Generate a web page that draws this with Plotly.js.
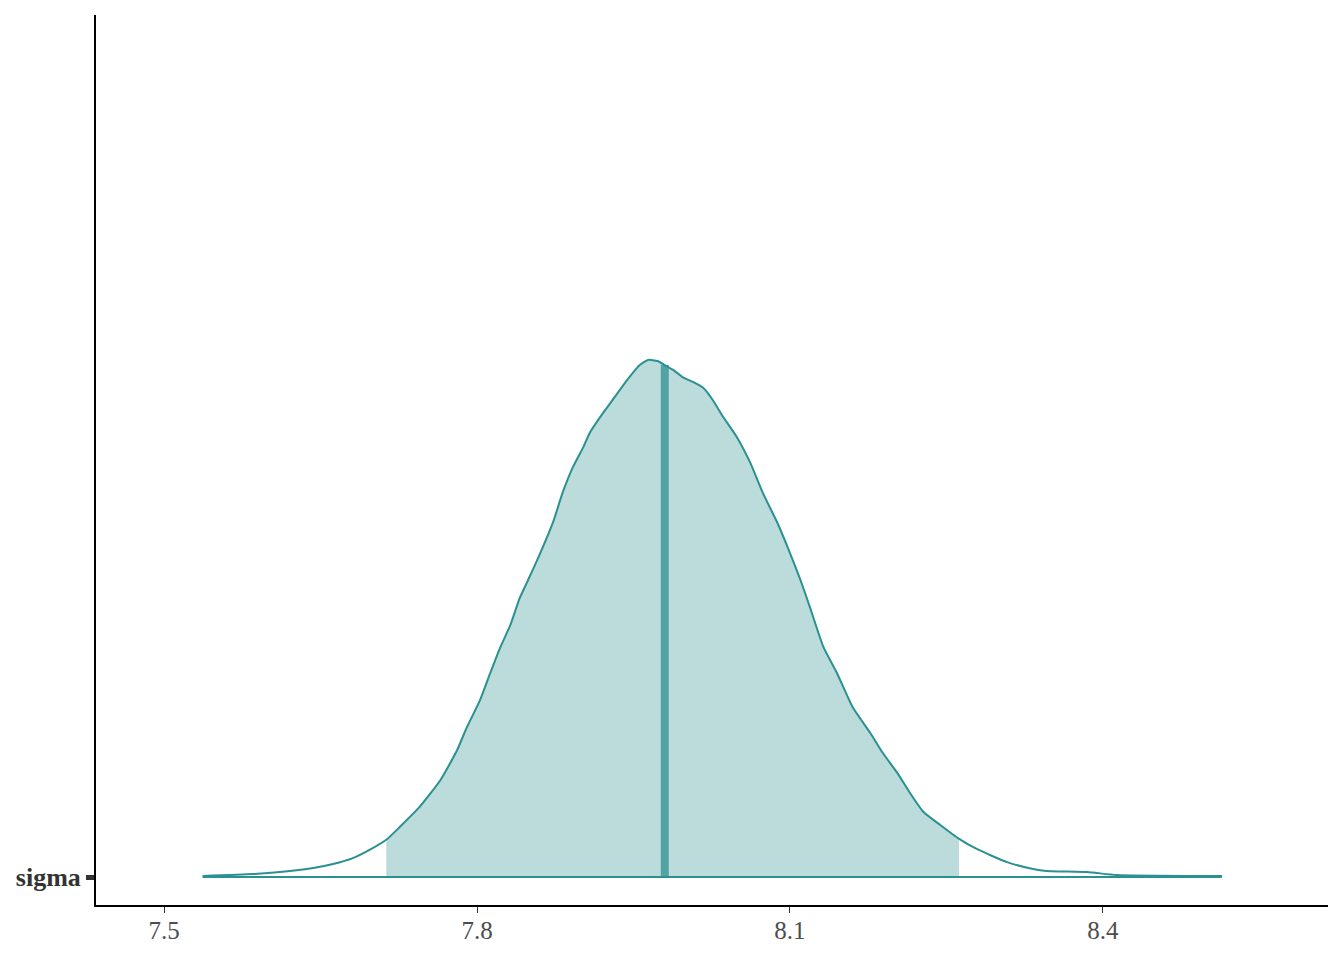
<!DOCTYPE html>
<html>
<head>
<meta charset="utf-8">
<script src="https://cdn.plot.ly/plotly-3.0.1.min.js"></script>
<style>html,body{margin:0;padding:0;background:#fff;}#chart{width:1344px;height:960px;}</style>
</head>
<body>
<div id="chart"></div>
<script>
// Posterior density of sigma
const sigmaX = [7.537,7.585,7.611,7.643,7.662,7.681,7.700,7.714,7.726,7.745,7.765,7.781,7.790,7.803,7.812,7.822,7.832,7.841,7.849,7.858,7.873,7.882,7.892,7.902,7.908,7.918,7.930,7.944,7.956,7.964,7.973,7.980,7.988,7.997,8.007,8.017,8.026,8.036,8.049,8.062,8.074,8.088,8.100,8.110,8.119,8.132,8.145,8.160,8.177,8.189,8.203,8.215,8.228,8.244,8.261,8.279,8.308,8.333,8.346,8.385,8.413,8.514];
const sigmaDensity = [0.005,0.016,0.027,0.049,0.071,0.104,0.159,0.209,0.275,0.385,0.533,0.698,0.819,0.973,1.110,1.258,1.385,1.533,1.632,1.745,1.951,2.110,2.253,2.363,2.440,2.527,2.621,2.731,2.813,2.841,2.835,2.813,2.786,2.747,2.720,2.687,2.621,2.527,2.418,2.275,2.110,1.945,1.780,1.632,1.484,1.264,1.121,0.934,0.791,0.681,0.571,0.462,0.357,0.286,0.214,0.154,0.082,0.044,0.033,0.027,0.011,0.005];
const intervalLow = 7.713;
const intervalHigh = 8.262;
const medianValue = 7.980;
const paramLabels = ['sigma'];
const xTicks = [7.5, 7.8, 8.1, 8.4];
const xTickText = ['7.5', '7.8', '8.1', '8.4'];

function densAt(x){
  for(let i=0;i<sigmaX.length-1;i++){
    if(x>=sigmaX[i] && x<=sigmaX[i+1]){
      const t=(x-sigmaX[i])/(sigmaX[i+1]-sigmaX[i]);
      return sigmaDensity[i]+t*(sigmaDensity[i+1]-sigmaDensity[i]);
    }
  }
  return 0;
}
const fx=[intervalLow], fy=[densAt(intervalLow)];
sigmaX.forEach((x,i)=>{ if(x>intervalLow && x<intervalHigh){fx.push(x);fy.push(sigmaDensity[i]);} });
fx.push(intervalHigh); fy.push(densAt(intervalHigh));

const lineCol = '#2a9090';
const traces = [
  {x:[intervalLow, ...fx, intervalHigh], y:[0, ...fy, 0], type:'scatter', mode:'lines', fill:'toself',
   fillcolor:'#bcdcdc', line:{width:0, color:'rgba(0,0,0,0)'}, hoverinfo:'skip', showlegend:false},
  {x:[medianValue, medianValue], y:[0, densAt(medianValue)], type:'scatter', mode:'lines',
   line:{color:'#52a3a3', width:8}, showlegend:false},
  {x:sigmaX, y:sigmaDensity, type:'scatter', mode:'lines', line:{color:lineCol, width:2, shape:'spline', smoothing:0.5}, showlegend:false},
  {x:[sigmaX[0], sigmaX[sigmaX.length-1]], y:[0,0], type:'scatter', mode:'lines', line:{color:lineCol, width:2}, showlegend:false}
];

const layout = {
  width:1344, height:960,
  paper_bgcolor:'#fff', plot_bgcolor:'#fff',
  margin:{l:96, r:16, t:15, b:55},
  showlegend:false,
  font:{family:'"Liberation Serif", "Times New Roman", serif', color:'#4d4d4d', size:25},
  xaxis:{range:[7.4348, 8.6157], tickvals:xTicks, ticktext:xTickText,
    showgrid:false, zeroline:false, showline:true, linecolor:'#000', linewidth:2,
    ticks:'outside', ticklen:6, tickwidth:1, tickcolor:'#333', mirror:false, ticklabelstandoff:-4,
    tickfont:{family:'"Liberation Serif", serif', size:25, color:'#4d4d4d'}},
  yaxis:{range:[-0.1538, 4.736], tickvals:[0], ticktext:paramLabels.map(s=>'<b>'+s+'</b>'),
    showgrid:false, zeroline:false, showline:true, linecolor:'#000', linewidth:2,
    ticks:'outside', ticklen:8, tickwidth:5, tickcolor:'#333',
    tickfont:{family:'"Liberation Serif", serif', size:26, color:'#333'}}
};
Plotly.newPlot('chart', traces, layout, {displayModeBar:false, staticPlot:true});
</script>
</body>
</html>
